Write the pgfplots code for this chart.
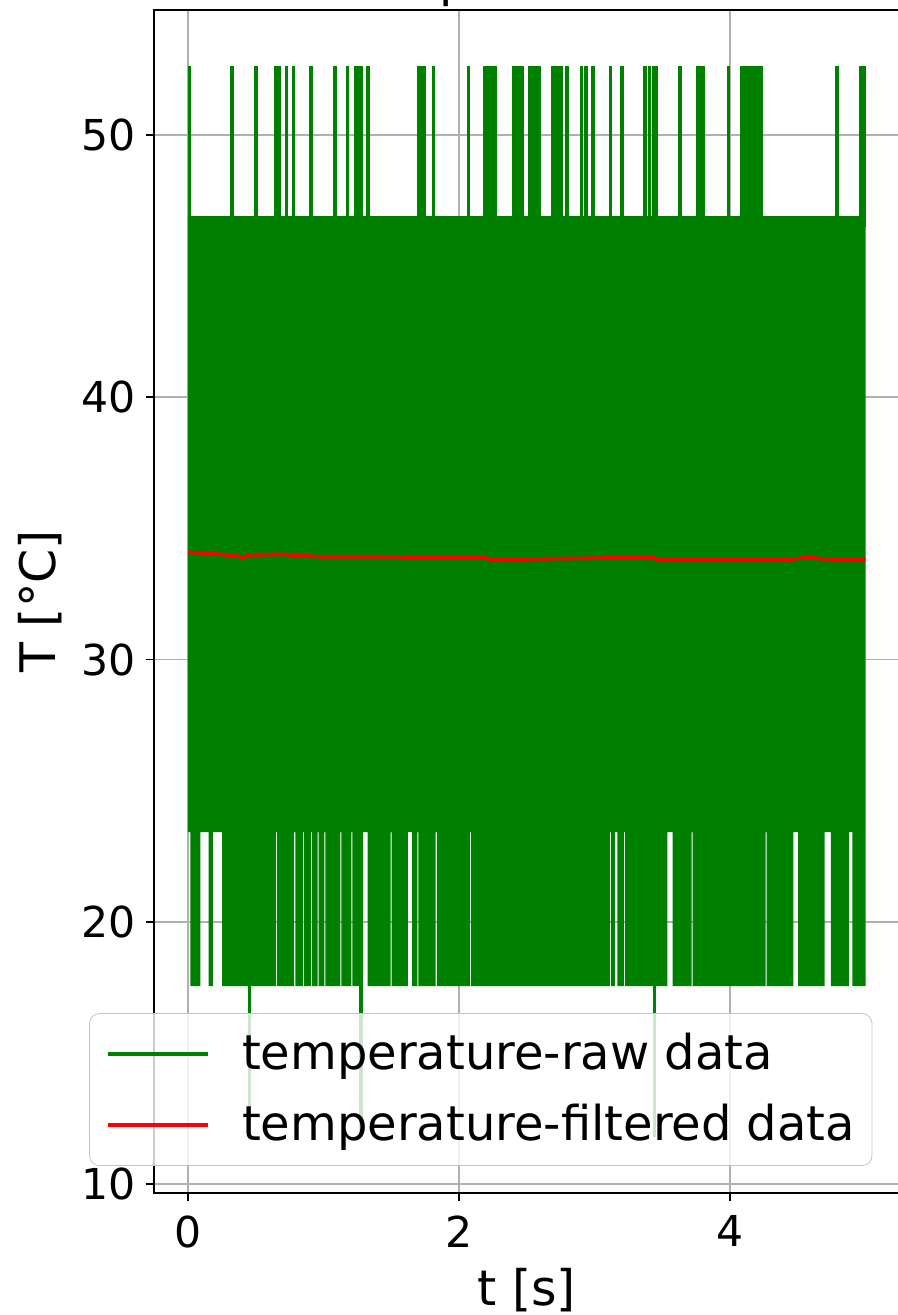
\documentclass[border=0pt]{standalone}
\usepackage{fontspec}
\setmainfont{DejaVu Sans}
\usepackage{pgfplots}
\pgfplotsset{compat=1.18}
\definecolor{mplgreen}{HTML}{008000}
\definecolor{mplred}{HTML}{FF0000}
\definecolor{gridgray}{HTML}{B0B0B0}
\definecolor{leggray}{HTML}{C4C4C4}
\begin{document}
\begin{tikzpicture}
\begin{axis}[
  at={(0pt,0pt)}, anchor=south west,
  scale only axis, width=372.65pt, height=591.35pt,
  xmin=-0.25, xmax=5.25, ymin=9.668, ymax=54.77,
  xtick={0,2,4}, ytick={10,20,30,40,50},
  xtick pos=bottom, ytick pos=left,
  tick align=outside, major tick length=4.2pt,
  every tick/.style={black, line width=0.96pt},
  axis line style={black, line width=0.96pt},
  grid=major, major grid style={draw=gridgray, line width=0.96pt},
  /pgf/number format/assume math mode=true,
  ticklabel style={font=\fontsize{21.3pt}{25pt}\selectfont, inner sep=0pt},
  xticklabel style={yshift=-6.95pt},
  yticklabel style={xshift=-4.8pt},
  xlabel={t [s]}, ylabel={T [°C]},
  every axis x label/.style={at={(axis description cs:0.5,-0.0823)}, anchor=center, inner sep=0pt, font=\fontsize{24.5pt}{29pt}\selectfont},
  every axis y label/.style={at={(axis description cs:-0.1531,0.5)}, anchor=center, rotate=90, inner sep=0pt, font=\fontsize{24.5pt}{29pt}\selectfont},
  title={Temperature},
  every axis title/.style={at={(axis description cs:0.2494,1.0118)}, anchor=base west, inner sep=0pt, font=\fontsize{24.5pt}{29pt}\selectfont},
  unbounded coords=jump,
  legend cell align=left,
  legend image code/.code={\draw[#1] (0pt,0pt) -- (50pt,0pt); \path (66pt,0pt);},
  every legend image post/.style={line width=1.8pt},
  legend style={
    at={(axis description cs:-0.0873,0.0226)}, anchor=south west,
    draw=leggray, rounded corners=5pt,
    fill=white, fill opacity=0.8, text opacity=1,
    font=\fontsize{24pt}{28pt}\selectfont,
    inner xsep=8.5pt, inner ysep=5pt,
    row sep=5pt,
    nodes={inner sep=0pt, text height=23pt, text depth=7.5pt},
  },
]
% raw signal: dense band (23.42..46.91) and the band of dips to 17.55 with its gaps
\addplot[fill=mplgreen, draw=none, forget plot] coordinates {
(0,46.91) (5.0,46.91) (5.0,17.55)
(4.903,17.55) (4.903,23.42) (4.878,23.42) (4.878,17.55)
(4.745,17.55) (4.745,23.42) (4.699,23.42) (4.699,17.55)
(4.502,17.55) (4.502,23.42) (4.467,23.42) (4.467,17.55)
(4.270,17.55) (4.270,23.42) (4.262,23.42) (4.262,17.55)
(3.724,17.55) (3.724,23.42) (3.716,23.42) (3.716,17.55)
(3.577,17.55) (3.577,23.42) (3.538,23.42) (3.538,17.55)
(3.224,17.55) (3.224,23.42) (3.216,23.42) (3.216,17.55)
(3.169,17.55) (3.169,23.42) (3.151,23.42) (3.151,17.55)
(3.123,17.55) (3.123,23.42) (3.115,23.42) (3.115,17.55)
(2.090,17.55) (2.090,23.42) (2.082,23.42) (2.082,17.55)
(1.836,17.55) (1.836,23.42) (1.828,23.42) (1.828,17.55)
(1.700,17.55) (1.700,23.42) (1.692,23.42) (1.692,17.55)
(1.654,17.55) (1.654,23.42) (1.622,23.42) (1.622,17.55)
(1.503,17.55) (1.503,23.42) (1.495,23.42) (1.495,17.55)
(1.326,17.55) (1.326,23.42) (1.291,23.42) (1.291,17.55)
(1.214,17.55) (1.214,23.42) (1.206,23.42) (1.206,17.55)
(1.132,17.55) (1.132,23.42) (1.124,23.42) (1.124,17.55)
(1.014,17.55) (1.014,23.42) (1.006,23.42) (1.006,17.55)
(0.964,17.55) (0.964,23.42) (0.956,23.42) (0.956,17.55)
(0.915,17.55) (0.915,23.42) (0.907,23.42) (0.907,17.55)
(0.858,17.55) (0.858,23.42) (0.850,23.42) (0.850,17.55)
(0.792,17.55) (0.792,23.42) (0.784,23.42) (0.784,17.55)
(0.656,17.55) (0.656,23.42) (0.648,23.42) (0.648,17.55)
(0.252,17.55) (0.252,23.42) (0.183,23.42) (0.183,17.55)
(0.153,17.55) (0.153,23.42) (0.091,23.42) (0.091,17.55)
(0.017,17.55) (0.017,23.42) (0,23.42)
};
% raw signal: isolated peaks to 52.7 and deep dips to 11.7
\addplot[mplgreen, line width=1.8pt, line join=round] coordinates {
(0.010,46.5) (0.010,52.65) (0.010,nan)
(0.325,46.5) (0.325,52.65) (0.325,nan)
(0.502,46.5) (0.502,52.65) (0.502,nan)
(0.650,46.5) (0.650,52.65) (0.650,nan)
(0.676,46.5) (0.676,52.65) (0.676,nan)
(0.726,46.5) (0.726,52.65) (0.726,nan)
(0.780,46.5) (0.780,52.65) (0.780,nan)
(0.910,46.5) (0.910,52.65) (0.910,nan)
(1.087,46.5) (1.087,52.65) (1.087,nan)
(1.178,46.5) (1.178,52.65) (1.178,nan)
(1.242,46.5) (1.242,52.65) (1.242,nan)
(1.262,46.5) (1.262,52.65) (1.262,nan)
(1.280,46.5) (1.280,52.65) (1.280,nan)
(1.328,46.5) (1.328,52.65) (1.328,nan)
(1.700,46.5) (1.700,52.65) (1.700,nan)
(1.722,46.5) (1.722,52.65) (1.722,nan)
(1.740,46.5) (1.740,52.65) (1.740,nan)
(1.813,46.5) (1.813,52.65) (1.813,nan)
(2.071,46.5) (2.071,52.65) (2.071,nan)
(2.193,46.5) (2.193,52.65) (2.193,nan)
(2.220,46.5) (2.220,52.65) (2.220,nan)
(2.245,46.5) (2.245,52.65) (2.245,nan)
(2.270,46.5) (2.270,52.65) (2.270,nan)
(2.405,46.5) (2.405,52.65) (2.405,nan)
(2.430,46.5) (2.430,52.65) (2.430,nan)
(2.455,46.5) (2.455,52.65) (2.455,nan)
(2.467,46.5) (2.467,52.65) (2.467,nan)
(2.526,46.5) (2.526,52.65) (2.526,nan)
(2.541,46.5) (2.541,52.65) (2.541,nan)
(2.570,46.5) (2.570,52.65) (2.570,nan)
(2.595,46.5) (2.595,52.65) (2.595,nan)
(2.695,46.5) (2.695,52.65) (2.695,nan)
(2.715,46.5) (2.715,52.65) (2.715,nan)
(2.735,46.5) (2.735,52.65) (2.735,nan)
(2.755,46.5) (2.755,52.65) (2.755,nan)
(2.797,46.5) (2.797,52.65) (2.797,nan)
(2.903,46.5) (2.903,52.65) (2.903,nan)
(2.937,46.5) (2.937,52.65) (2.937,nan)
(2.991,46.5) (2.991,52.65) (2.991,nan)
(3.119,46.5) (3.119,52.65) (3.119,nan)
(3.203,46.5) (3.203,52.65) (3.203,nan)
(3.372,46.5) (3.372,52.65) (3.372,nan)
(3.405,46.5) (3.405,52.65) (3.405,nan)
(3.440,46.5) (3.440,52.65) (3.440,nan)
(3.458,46.5) (3.458,52.65) (3.458,nan)
(3.633,46.5) (3.633,52.65) (3.633,nan)
(3.762,46.5) (3.762,52.65) (3.762,nan)
(3.782,46.5) (3.782,52.65) (3.782,nan)
(3.805,46.5) (3.805,52.65) (3.805,nan)
(3.990,46.5) (3.990,52.65) (3.990,nan)
(4.086,46.5) (4.086,52.65) (4.086,nan)
(4.110,46.5) (4.110,52.65) (4.110,nan)
(4.124,46.5) (4.124,52.65) (4.124,nan)
(4.153,46.5) (4.153,52.65) (4.153,nan)
(4.175,46.5) (4.175,52.65) (4.175,nan)
(4.200,46.5) (4.200,52.65) (4.200,nan)
(4.228,46.5) (4.228,52.65) (4.228,nan)
(4.789,46.5) (4.789,52.65) (4.789,nan)
(4.965,46.5) (4.965,52.65) (4.965,nan)
(4.990,46.5) (4.990,52.65) (4.990,nan)
(0.455,17.8) (0.455,11.8) (0.455,nan)
(1.277,17.8) (1.277,11.8) (1.277,nan)
(3.442,17.8) (3.442,11.8) (3.442,nan)
};
\addlegendentry{temperature-raw data}
\addplot[mplred, line width=1.8pt] coordinates {
(0.0,34.09) (0.165,34.05) (0.34,33.96) (0.41,33.90) (0.46,33.99) (0.70,34.01)
(0.98,33.92) (1.41,33.92) (1.83,33.90) (2.20,33.89) (2.22,33.82) (2.60,33.84)
(3.06,33.87) (3.43,33.90) (3.46,33.82) (4.08,33.80) (4.39,33.80) (4.60,33.90)
(4.67,33.84) (5.0,33.82)
};
\addlegendentry{temperature-filtered data}
\end{axis}
\pgfresetboundingbox
\path[use as bounding box] (-77.05pt,-61.15pt) rectangle (371.95pt,596.35pt);
\end{tikzpicture}
\end{document}
